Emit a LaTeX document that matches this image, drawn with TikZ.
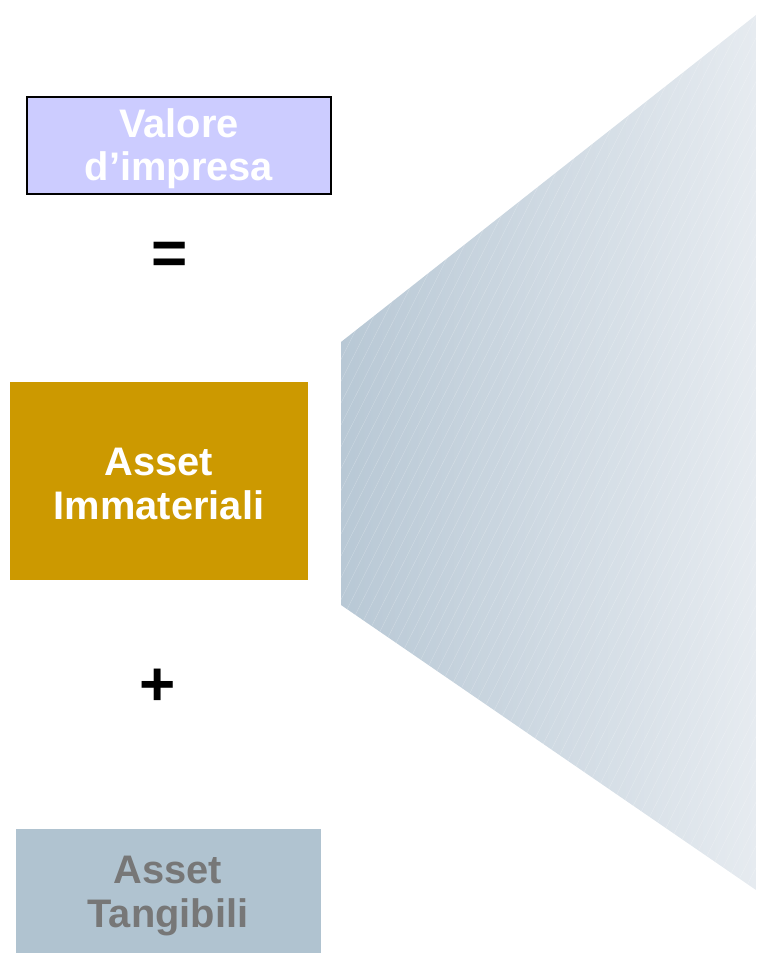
\documentclass[tikz,border=0pt]{standalone}
\usepackage{fontspec}
\setmainfont{Liberation Sans}
\usetikzlibrary{positioning}
\definecolor{lavender}{HTML}{CCCCFF}
\definecolor{ochre}{HTML}{CC9900}
\definecolor{steelgrey}{HTML}{B0C3D0}
\definecolor{textgrey}{HTML}{777777}
\definecolor{wedgeleft}{HTML}{B8C8D5}
\definecolor{wedgeright}{HTML}{E6EBF0}
\tikzset{
	% ------- every something
	every node/.style={
		font=\bfseries\fontsize{34}{37}\selectfont,
		align=center,
	},
	% ------- custom
	box/.style={
		inner sep=0pt,
		outer sep=0pt,
	},
	sign/.style={
		font=\bfseries\fontsize{53}{53}\selectfont,
		inner sep=0pt,
	},
	hatch/.style={
		white,
		opacity=0.3,
		line width=0.3pt,
	},
}

\begin{document}
\begin{tikzpicture}[x=0.03cm, y=-0.03cm]

% frame %{{{1

	\useasboundingbox (0,0) rectangle (756,953);

% coordinates %{{{1

	\coordinate (W1) at (341,342);
	\coordinate (W2) at (756,15);
	\coordinate (W3) at (756,890);
	\coordinate (W4) at (341,605);

% wedge %{{{1

	\shade[left color=wedgeleft, right color=wedgeright]
		(W1) -- (W2) -- (W3) -- (W4) -- cycle;

	\begin{scope}
		\clip (W1) -- (W2) -- (W3) -- (W4) -- cycle;
		\foreach \x in {-200,-189,...,760} {
			\draw[hatch] (\x,953) -- ++(480,-953);
		}
	\end{scope}

% boxes %{{{1

	\filldraw[fill=lavender, draw=black, line width=1.2pt]
		(27,97) rectangle (331,194);
	\fill[ochre] (10,382) rectangle (308,580);
	\fill[steelgrey] (16,829) rectangle (321,953);

% box labels %{{{1

	\node[box, text=white] (valore) at (179,149) {Valore\\d’impresa};
	\node[box, text=white] (immateriali) at (159,484) {Asset\\Immateriali};
	\node[box, text=textgrey] (tangibili) at (168,896) {Asset\\Tangibili};

% signs %{{{1

	\node[sign] (equals) at (170,258) {=};
	\node[sign] (plus) at (158,687) {+};

% closing %{{{1

\end{tikzpicture}
\end{document}
